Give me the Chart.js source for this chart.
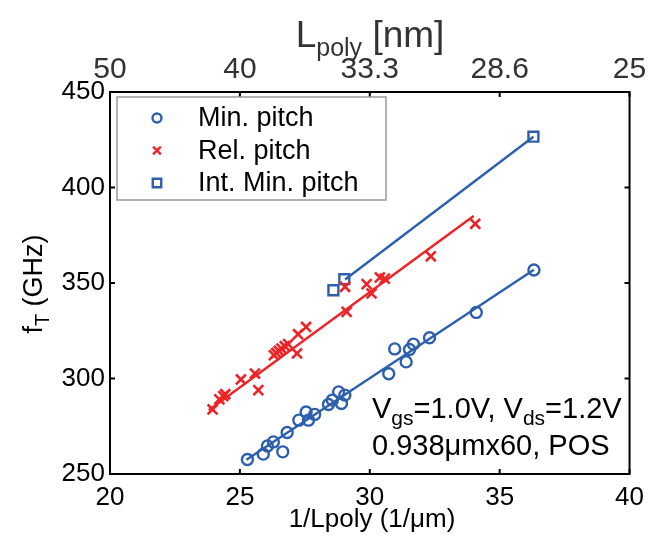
<!DOCTYPE html>
<html>
<head>
<meta charset="utf-8">
<script src="https://cdn.jsdelivr.net/npm/chart.js@4.4.1/dist/chart.umd.min.js"></script>
<style>
	body{margin:0;background:#fff;}
	canvas{display:block;}
</style>
</head>
<body>
<canvas id="myChart" width="652" height="536"></canvas>
<script>
// Min. pitch (circles)
const minX = [25.29, 25.90, 26.06, 26.29, 26.65, 26.82, 27.27, 27.55, 27.64, 27.88, 28.41, 28.56, 28.80, 28.91, 29.04, 30.73, 30.96, 31.40, 31.53, 31.68, 32.30, 34.10, 36.32];
const minY = [257.6, 260.4, 264.7, 266.8, 261.6, 271.7, 278.2, 282.5, 278.2, 281.2, 286.4, 288.7, 293.0, 286.9, 291.3, 302.5, 315.5, 308.7, 315.2, 318.0, 321.3, 334.6, 356.8];
// Rel. pitch (crosses)
const relX = [23.95, 24.21, 24.36, 24.44, 25.04, 25.58, 25.71, 26.31, 26.40, 26.50, 26.60, 26.73, 26.86, 27.20, 27.24, 27.55, 29.05, 29.11, 29.88, 30.07, 30.39, 30.58, 32.35, 34.06];
const relY = [283.8, 289.1, 290.8, 291.8, 299.5, 302.6, 293.9, 312.2, 313.4, 314.5, 315.7, 316.9, 318.0, 313.1, 323.2, 327.0, 348.0, 334.9, 349.4, 344.5, 352.9, 352.3, 364.0, 381.0];
// Int. Min. pitch (squares)
const intX = [28.60, 29.02, 36.30];
const intY = [346.2, 352.0, 426.6];
// linear fits, end points
const minFitX = [25.25, 36.32];
const minFitY = [257.4, 356.9];
const relFitX = [23.80, 34.00];
const relFitY = [283.4, 385.1];
const intFitX = [29.05, 36.30];
const intFitY = [351.8, 426.6];

const xTicks = [20, 25, 30, 35, 40];
const topTickLabels = ['50', '40', '33.3', '28.6', '25'];
const yTicks = [250, 300, 350, 400, 450];

const blue = '#2d5fad';
const red = '#ed2327';
const FONT = '"Liberation Sans", Arial, Helvetica, sans-serif';

function pts(xs, ys){
	const out = [];
	for(let i=0;i<xs.length;i++){
		out.push({x: xs[i], y: ys[i]});
	}
	return out;
}

const legendItems = [
	{text: 'Min. pitch', style: 'circle', color: blue, r: 4.5},
	{text: 'Rel. pitch', style: 'crossRot', color: red, r: 5.5},
	{text: 'Int. Min. pitch', style: 'rect', color: blue, r: 6}
];

// draws text made of pieces, some of them subscript
function drawParts(ctx, parts, x, y, align){
	let total = 0;
	for(let p of parts){
		ctx.font = p.size + 'px ' + FONT;
		p.w = ctx.measureText(p.t).width;
		total += p.w;
	}
	let cx = x;
	if(align === 'center') cx = x - total/2;
	ctx.textAlign = 'left';
	ctx.textBaseline = 'alphabetic';
	for(let p of parts){
		ctx.font = p.size + 'px ' + FONT;
		ctx.fillText(p.t, cx, y + (p.dy || 0));
		cx += p.w;
	}
}

const decor = {
	id: 'decor',
	afterDraw(chart){
		const ctx = chart.ctx;
		const a = chart.chartArea;
		const xs = chart.scales.x;
		const ys = chart.scales.y;
		ctx.save();
		ctx.strokeStyle = '#000';
		ctx.lineWidth = 2;
		// inward ticks
		ctx.beginPath();
		for(let v of xTicks){
			const px = xs.getPixelForValue(v);
			ctx.moveTo(px, a.bottom); ctx.lineTo(px, a.bottom - 5);
			ctx.moveTo(px, a.top); ctx.lineTo(px, a.top + 5);
		}
		for(let v of yTicks){
			const py = ys.getPixelForValue(v);
			ctx.moveTo(a.left, py); ctx.lineTo(a.left + 5, py);
			ctx.moveTo(a.right, py); ctx.lineTo(a.right - 5, py);
		}
		ctx.stroke();
		// frame
		ctx.strokeRect(a.left, a.top, a.right - a.left, a.bottom - a.top);

		// legend
		const lx = a.left + 7, ly = a.top + 5, lw = 269, lh = 103;
		ctx.fillStyle = '#fff';
		ctx.fillRect(lx, ly, lw, lh);
		ctx.strokeStyle = '#999';
		ctx.lineWidth = 1.5;
		ctx.strokeRect(lx, ly, lw, lh);
		legendItems.forEach(function(item, i){
			const cy = ly + 21 + i * 32.5;
			ctx.strokeStyle = item.color;
			ctx.fillStyle = 'rgba(0,0,0,0)';
			ctx.lineWidth = 2.4;
			Chart.helpers.drawPoint(ctx, {pointStyle: item.style, radius: item.r, rotation: 0, borderWidth: 2.4}, lx + 40, cy);
			ctx.fillStyle = '#000';
			ctx.font = '27px ' + FONT;
			ctx.textAlign = 'left';
			ctx.textBaseline = 'middle';
			ctx.fillText(item.text, lx + 81, cy + 1);
		});

		// annotation
		ctx.fillStyle = '#000';
		drawParts(ctx, [
			{t: 'V', size: 29}, {t: 'gs', size: 21, dy: 7}, {t: '=1.0V, V', size: 29},
			{t: 'ds', size: 21, dy: 7}, {t: '=1.2V', size: 29}
		], 372, 418, 'left');
		drawParts(ctx, [{t: '0.938\u03bcmx60, POS', size: 29}], 372, 455, 'left');

		// axis titles
		drawParts(ctx, [{t: '1/Lpoly (1/\u03bcm)', size: 26}], 372, 527, 'center');
		ctx.fillStyle = '#333';
		drawParts(ctx, [{t: 'L', size: 37}, {t: 'poly', size: 25, dy: 9}, {t: ' [nm]', size: 37}], 370, 47, 'center');
		ctx.fillStyle = '#000';
		ctx.translate(42, 284);
		ctx.rotate(-Math.PI/2);
		drawParts(ctx, [{t: 'f', size: 27}, {t: 'T', size: 20, dy: 7}, {t: ' (GHz)', size: 27}], 0, 0, 'center');
		ctx.restore();
	}
};

new Chart("myChart", {
	type: 'scatter',
	data: {
		datasets: [{
			label: 'Min. pitch fit',
			data: pts(minFitX, minFitY),
			showLine: true,
			borderColor: blue,
			borderWidth: 2.4,
			pointRadius: 0
		}, {
			label: 'Rel. pitch fit',
			data: pts(relFitX, relFitY),
			showLine: true,
			borderColor: red,
			borderWidth: 2.4,
			pointRadius: 0
		}, {
			label: 'Int. Min. pitch fit',
			data: pts(intFitX, intFitY),
			showLine: true,
			borderColor: blue,
			borderWidth: 2.4,
			pointRadius: 0
		}, {
			label: 'Min. pitch',
			data: pts(minX, minY),
			pointStyle: 'circle',
			pointRadius: 5.5,
			borderColor: blue,
			backgroundColor: 'rgba(0,0,0,0)',
			borderWidth: 2.4
		}, {
			label: 'Rel. pitch',
			data: pts(relX, relY),
			pointStyle: 'crossRot',
			pointRadius: 7,
			borderColor: red,
			backgroundColor: red,
			borderWidth: 2.6
		}, {
			label: 'Int. Min. pitch',
			data: pts(intX, intY),
			pointStyle: 'rect',
			pointRadius: 7,
			borderColor: blue,
			backgroundColor: 'rgba(0,0,0,0)',
			borderWidth: 2.4
		}]
	},
	options: {
		responsive: false,
		animation: false,
		layout: {padding: {left: 0, right: 19, top: 0, bottom: 0}},
		plugins: {
			legend: {display: false},
			tooltip: {enabled: false}
		},
		scales: {
			x: {
				type: 'linear',
				position: 'bottom',
				min: 20, max: 40,
				grid: {display: false, drawTicks: false},
				border: {display: false},
				ticks: {stepSize: 5, color: '#000', font: {size: 26, family: FONT}, padding: 8, maxRotation: 0},
				afterFit: function(s){ s.height = 62; }
			},
			x2: {
				type: 'linear',
				position: 'top',
				min: 20, max: 40,
				grid: {display: false, drawTicks: false},
				border: {display: false},
				ticks: {
					stepSize: 5, color: '#333', font: {size: 30, family: FONT}, padding: 4, maxRotation: 0,
					callback: function(v, i){ return topTickLabels[i]; }
				},
				afterFit: function(s){ s.height = 92; }
			},
			y: {
				min: 250, max: 450,
				grid: {display: false, drawTicks: false},
				border: {display: false},
				ticks: {stepSize: 50, color: '#000', font: {size: 26, family: FONT}, padding: 5},
				afterFit: function(s){ s.width = 110; }
			}
		}
	},
	plugins: [decor]
});
</script>
</body>
</html>
